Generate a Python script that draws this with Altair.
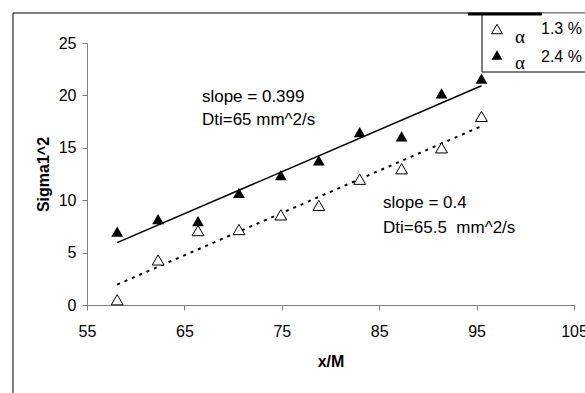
import altair as alt
import pandas as pd

# ---- data ----
x_vals = [58.1, 62.3, 66.4, 70.6, 74.9, 78.8, 83.0, 87.3, 91.4, 95.5]
sig_24 = [7.0, 8.2, 8.0, 10.7, 12.4, 13.8, 16.5, 16.1, 20.2, 21.6]   # alpha 2.4 %
sig_13 = [0.5, 4.3, 7.1, 7.2, 8.6, 9.5, 12.0, 13.0, 15.0, 18.0]     # alpha 1.3 %

x_ticks = [55, 65, 75, 85, 95, 105]
y_ticks = [0, 5, 10, 15, 20, 25]

ann_text = ["slope = 0.399", "Dti=65 mm^2/s", "slope = 0.4", "Dti=65.5\u00a0\u00a0mm^2/s"]
ann_x = [66.8, 66.8, 85.4, 85.4]
ann_y = [19.85, 17.65, 9.75, 7.35]

legend_labels = ["1.3 %", "2.4 %"]

FONT = "Liberation Sans"

df = pd.DataFrame({"x": x_vals, "s24": sig_24, "s13": sig_13})
ann = pd.DataFrame({"x": ann_x, "y": ann_y, "t": ann_text})
one = alt.Data(values=[{}])

xs = alt.Scale(domain=[55, 105], nice=False, zero=False)
ys = alt.Scale(domain=[0, 25], nice=False)

xax = alt.Axis(values=x_ticks, title="x/M", grid=False, tickSize=5, labelPadding=13,
               labelFlush=False, titlePadding=14, domainColor="#808080", tickColor="#808080")
yax = alt.Axis(values=y_ticks, title="Sigma1^2", grid=False, tickSize=5, labelPadding=6,
               titlePadding=7, domainColor="#808080", tickColor="#808080")

base = alt.Chart(df)

fit24 = base.transform_regression("x", "s24").mark_line(color="black", strokeWidth=1.5).encode(
    x=alt.X("x:Q", scale=xs, axis=xax), y=alt.Y("s24:Q", scale=ys, axis=yax))
fit13 = base.transform_regression("x", "s13").mark_line(
    color="black", strokeWidth=2, strokeDash=[3, 5]).encode(
    x=alt.X("x:Q", scale=xs), y=alt.Y("s13:Q", scale=ys))

pts24 = base.mark_point(shape="triangle-up", filled=True, color="black", size=140, opacity=1).encode(
    x=alt.X("x:Q", scale=xs), y=alt.Y("s24:Q", scale=ys))
pts13 = base.mark_point(shape="triangle-up", filled=True, fill="white", stroke="black",
                        strokeWidth=1, size=140, opacity=1).encode(
    x=alt.X("x:Q", scale=xs), y=alt.Y("s13:Q", scale=ys))

notes = alt.Chart(ann).mark_text(align="left", baseline="middle", font=FONT, fontSize=17,
                                 color="black").encode(
    x=alt.X("x:Q", scale=xs), y=alt.Y("y:Q", scale=ys), text="t:N")

# frame and legend box (pixel positions relative to plot origin)
frame_left = alt.Chart(one).mark_rule(color="black", strokeWidth=1).encode(
    x=alt.value(-74), y=alt.value(-30), y2=alt.value(360))
frame_top = alt.Chart(one).mark_rule(color="black", strokeWidth=1).encode(
    x=alt.value(-74), x2=alt.value(510), y=alt.value(-30))
frame_thick = alt.Chart(one).mark_rule(color="black", strokeWidth=3).encode(
    x=alt.value(381), x2=alt.value(455), y=alt.value(-29))
leg_left = alt.Chart(one).mark_rule(color="black", strokeWidth=1).encode(
    x=alt.value(395), y=alt.value(-30), y2=alt.value(29))
leg_bottom = alt.Chart(one).mark_rule(color="black", strokeWidth=1).encode(
    x=alt.value(395), x2=alt.value(510), y=alt.value(29))
leg_bg = alt.Chart(one).mark_rect(fill="white").encode(
    x=alt.value(395.5), x2=alt.value(510), y=alt.value(-29.5), y2=alt.value(28.5))

leg_open = alt.Chart(one).mark_point(shape="triangle-up", filled=True, fill="white", stroke="black",
                                     strokeWidth=1, size=120, opacity=1).encode(
    x=alt.value(410), y=alt.value(-14))
leg_fill = alt.Chart(one).mark_point(shape="triangle-up", filled=True, color="black",
                                     size=120, opacity=1).encode(
    x=alt.value(410), y=alt.value(12))
leg_a1 = alt.Chart(one).mark_text(text="α", font="Liberation Serif", fontSize=19,
                                  baseline="middle", align="center").encode(
    x=alt.value(433), y=alt.value(-6))
leg_a2 = alt.Chart(one).mark_text(text="α", font="Liberation Serif", fontSize=19,
                                  baseline="middle", align="center").encode(
    x=alt.value(433), y=alt.value(20))
leg_t1 = alt.Chart(one).mark_text(text=legend_labels[0], font=FONT, fontSize=16,
                                  baseline="middle", align="left").encode(
    x=alt.value(454), y=alt.value(-14))
leg_t2 = alt.Chart(one).mark_text(text=legend_labels[1], font=FONT, fontSize=16,
                                  baseline="middle", align="left").encode(
    x=alt.value(454), y=alt.value(14))

chart = alt.layer(
    fit24, fit13, pts24, pts13, notes,
    frame_left, frame_top, leg_bg, leg_left, leg_bottom, frame_thick,
    leg_open, leg_fill, leg_a1, leg_a2, leg_t1, leg_t2,
).properties(
    width=487, height=262,
    autosize=alt.AutoSizeParams(type="none"),
    padding={"left": 87, "top": 43, "right": 11, "bottom": 88},
    background="white",
).configure_view(strokeWidth=0).configure_axis(
    labelFont=FONT, labelFontSize=16, labelColor="black",
    titleFont=FONT, titleFontSize=16, titleFontWeight="bold", titleColor="black",
)

chart.save("out.html", embed_options={"renderer": "svg", "actions": False})
